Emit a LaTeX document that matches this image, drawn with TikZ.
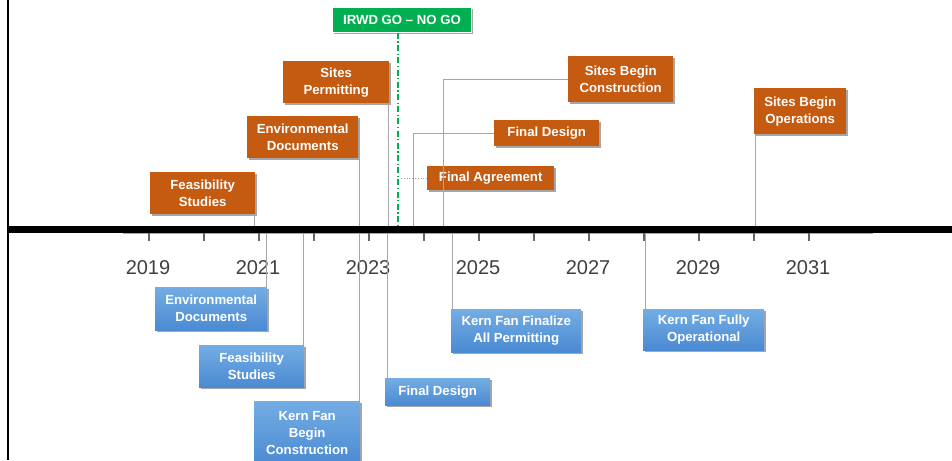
\documentclass[tikz,border=0pt]{standalone}
\usepackage{fontspec}
\setmainfont{Liberation Sans}
\usetikzlibrary{shadows}
\definecolor{orangebox}{HTML}{C55A11}
\definecolor{greenbox}{HTML}{00B050}
\definecolor{bluetop}{HTML}{74ADE4}
\definecolor{bluebot}{HTML}{4A8AD2}
\definecolor{connc}{HTML}{A6A6A6}
\definecolor{yearc}{HTML}{404040}
\tikzset{
  boxbase/.style={anchor=north west, inner sep=0pt, align=center, text=white,
    font=\fontsize{13.2}{17}\selectfont\bfseries,
    drop shadow={shadow xshift=1.5pt, shadow yshift=-1.8pt, opacity=0.35, fill=black}},
  obox/.style={boxbase, fill=orangebox},
  gbox/.style={boxbase, fill=greenbox, draw=white, line width=1pt},
  bbox/.style={boxbase, top color=bluetop, bottom color=bluebot},
  conn/.style={draw=connc, line width=0.9pt},
  yearlbl/.style={text=yearc, font=\fontsize{20}{22}\selectfont, inner sep=0pt}
}
\begin{document}
\begin{tikzpicture}[x=1pt,y=-1pt]
\clip (0,0) rectangle (952,460);
\fill[white] (0,0) rectangle (952,460);
% axis coordinates
\coordinate (axT) at (0,226);
\coordinate (axB) at (0,233);
% grey axis and ticks
\draw[draw=connc, line width=1pt] (123,233) -- (873,233);
\foreach \i in {0,...,12} {
  \draw[draw=yearc!80, line width=1.2pt] ({149+55*\i},233) -- ({149+55*\i},241);
}
\foreach \y/\i in {2019/0,2021/2,2023/4,2025/6,2027/8,2029/10,2031/12} {
  \node[yearlbl] (y\y) at ({148+55*\i},268) {\y};
}
% orange boxes
\node[obox, minimum width=105pt, minimum height=42pt] (ofeas) at (150,172) {Feasibility\\Studies};
\node[obox, minimum width=111pt, minimum height=42pt] (oenv) at (247,116) {Environmental\\Documents};
\node[obox, minimum width=106pt, minimum height=42pt] (operm) at (283,61) {Sites\\Permitting};
\node[gbox, minimum width=139pt, minimum height=25pt] (ogo) at (332,7) {IRWD GO – NO GO};
\node[obox, minimum width=127pt, minimum height=24pt] (oagree) at (427,166) {Final Agreement};
\node[obox, minimum width=105pt, minimum height=26pt] (odesign) at (494,120) {Final Design};
\node[obox, minimum width=105pt, minimum height=46pt] (oconst) at (568,56) {Sites Begin\\Construction};
\node[obox, minimum width=92pt, minimum height=46pt] (oops) at (754,88) {Sites Begin\\Operations};
% blue boxes
\node[bbox, minimum width=112pt, minimum height=43pt] (benv) at (155,287) {Environmental\\Documents};
\node[bbox, minimum width=105pt, minimum height=42pt] (bfeas) at (199,345) {Feasibility\\Studies};
\node[bbox, minimum width=106pt, minimum height=64pt, text depth=0pt] (bkern) at (254,401) {Kern Fan\\Begin\\Construction};
\node[bbox, minimum width=105pt, minimum height=27pt] (bdesign) at (385,378) {Final Design};
\node[bbox, minimum width=130pt, minimum height=43pt] (bfinal) at (451,309) {Kern Fan Finalize\\All Permitting};
\node[bbox, minimum width=121pt, minimum height=41pt] (bops) at (643,309) {Kern Fan Fully\\Operational};
% connectors above
\draw[conn] ([xshift=-1pt]ofeas.south east) -- ([xshift=-1pt]ofeas.south east |- axT);
\draw[conn] ([xshift=1pt]oenv.south east) -- ([xshift=1pt]oenv.south east |- axT);
\draw[conn] ([xshift=-1pt]operm.south east) -- ([xshift=-1pt]operm.south east |- axT);
\coordinate (goline) at (398,226);
\draw[draw=greenbox, line width=1.4pt, dash pattern=on 6pt off 2.5pt on 1.2pt off 2.5pt] (ogo.south -| goline) -- (goline);
\draw[draw=connc, line width=0.8pt, dotted] (oagree.west) -- (oagree.west -| 400,0);
\draw[conn] (odesign.west) -| (413,226);
\draw[conn] (oconst.west) -| (443,226);
\draw[conn] ([xshift=1pt]oops.south west) -- ([xshift=1pt]oops.south west |- axT);
% connectors below
\draw[conn] ([xshift=-0.5pt]benv.north east) -- ([xshift=-0.5pt]benv.north east |- axB);
\draw[conn] ([xshift=-0.5pt]bfeas.north east) -- ([xshift=-0.5pt]bfeas.north east |- axB);
\draw[conn] ([xshift=-1pt]bkern.north east) -- ([xshift=-1pt]bkern.north east |- axB);
\draw[conn] ([xshift=2pt]bdesign.north west) -- ([xshift=2pt]bdesign.north west |- axB);
\draw[conn] ([xshift=1pt]bfinal.north west) -- ([xshift=1pt]bfinal.north west |- axB);
\draw[conn] ([xshift=2pt]bops.north west) -- ([xshift=2pt]bops.north west |- axB);
% main black axis and left border
\draw[line width=7pt] (8,229) -- (952,229);
\draw[line width=2.4pt] (8,0) -- (8,460);
\end{tikzpicture}
\end{document}
